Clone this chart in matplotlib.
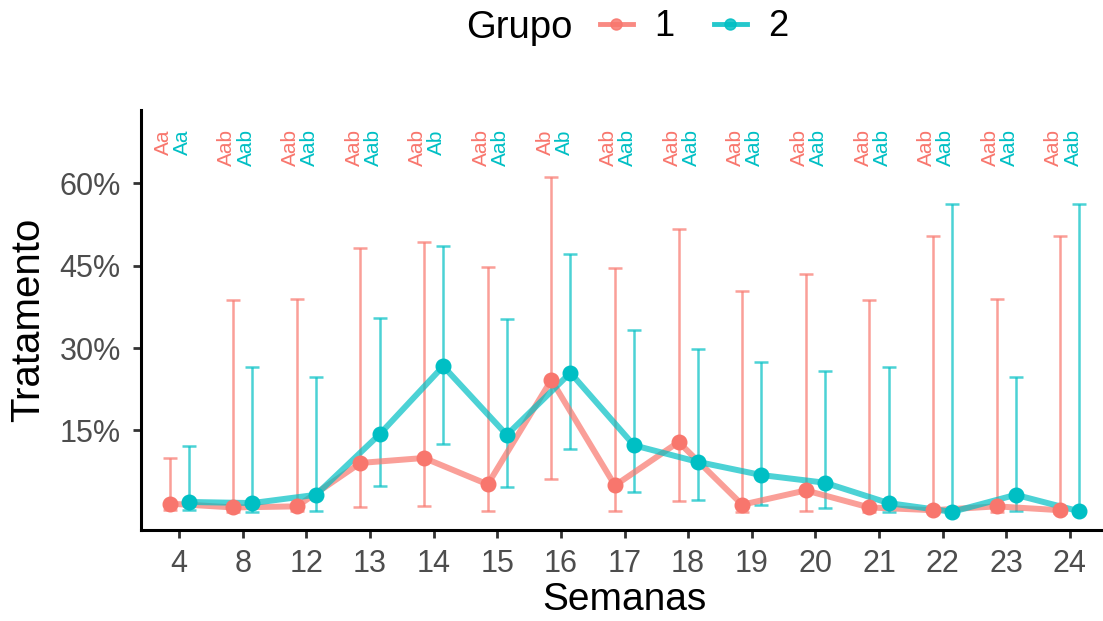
import numpy as np
import matplotlib.pyplot as plt
from matplotlib.lines import Line2D
from matplotlib.ticker import PercentFormatter

plt.rcParams['font.family'] = ['Liberation Sans', 'DejaVu Sans']

# Data (percent)
semanas = ['4', '8', '12', '13', '14', '15', '16', '17', '18', '19', '20', '21', '22', '23', '24']

g1_mean = [1.7, 1.0, 1.2, 9.1, 10.0, 5.2, 24.2, 5.0, 12.9, 1.5, 4.1, 1.0, 0.5, 1.2, 0.5]
g1_low = [0.5, 0.2, 0.3, 1.1, 1.3, 0.4, 6.1, 0.4, 2.1, 0.1, 0.4, 0.1, 0.1, 0.2, 0.0]
g1_high = [10.0, 38.8, 38.9, 48.2, 49.2, 44.7, 61.2, 44.5, 51.7, 40.4, 43.4, 38.8, 50.3, 38.9, 50.3]

g2_mean = [2.0, 1.8, 3.3, 14.3, 26.7, 14.2, 25.5, 12.3, 9.3, 6.9, 5.5, 1.8, 0.2, 3.3, 0.3]
g2_low = [0.5, 0.1, 0.4, 4.9, 12.5, 4.7, 11.7, 3.8, 2.4, 1.4, 0.9, 0.1, 0.0, 0.4, 0.0]
g2_high = [12.1, 26.6, 24.8, 35.4, 48.5, 35.2, 47.1, 33.3, 29.8, 27.4, 25.8, 26.5, 56.2, 24.8, 56.2]

g1_letras = ['Aa', 'Aab', 'Aab', 'Aab', 'Aab', 'Aab', 'Ab', 'Aab', 'Aab', 'Aab', 'Aab', 'Aab', 'Aab', 'Aab', 'Aab']
g2_letras = ['Aa', 'Aab', 'Aab', 'Aab', 'Ab', 'Aab', 'Ab', 'Aab', 'Aab', 'Aab', 'Aab', 'Aab', 'Aab', 'Aab', 'Aab']

red = '#F8766D'
teal = '#00BFC4'

fig = plt.figure(figsize=(11.03, 6.21), dpi=100)
ax = fig.add_axes([141 / 1103, 91 / 621, 967 / 1103, 420 / 621])

x = np.arange(len(semanas))
dodge = 0.15

grupos = [
    (x - dodge, g1_mean, g1_low, g1_high, g1_letras, red),
    (x + dodge, g2_mean, g2_low, g2_high, g2_letras, teal),
]

for xs, mean, low, high, letras, col in grupos:
    mean = np.array(mean)
    err = [mean - np.array(low), np.array(high) - mean]
    ax.errorbar(xs, mean, yerr=err, fmt='none', ecolor=col, alpha=0.7,
                elinewidth=1.8, capsize=5, capthick=1.8, zorder=2)
    ax.plot(xs, mean, color=col, lw=4.3, alpha=0.7, zorder=3, solid_capstyle='round')
    ax.plot(xs, mean, 'o', color=col, ms=10.5, zorder=4)
    for xi, lab in zip(xs, letras):
        ax.text(xi - 0.1, 69.8, lab, rotation=90, rotation_mode='anchor', ha='right', va='center',
                color=col, fontsize=15, zorder=5)

ax.set_xlim(-0.6, len(semanas) - 0.4)
ax.set_ylim(-3.1, 73.3)
ax.set_xticks(x)
ax.set_xticklabels(semanas)
ax.set_yticks([15, 30, 45, 60])
ax.yaxis.set_major_formatter(PercentFormatter(decimals=0))

for s in ['top', 'right']:
    ax.spines[s].set_visible(False)
for s in ['left', 'bottom']:
    ax.spines[s].set_linewidth(2.2)
ax.tick_params(axis='both', length=5.5, width=2, color='#333333', labelsize=22, labelcolor='#4D4D4D')
ax.tick_params(axis='x', pad=8)
ax.tick_params(axis='y', pad=9)

ax.set_xlabel('Semanas', fontsize=28, labelpad=2)
ax.set_ylabel('Tratamento', fontsize=29, labelpad=9)

# legend on top
fig.text(466 / 1103, 1 - 38 / 621, 'Grupo', fontsize=27.5, va='baseline', ha='left')
handles = [Line2D([], [], color=red, lw=3.5, marker='o', ms=8, alpha=0.85),
           Line2D([], [], color=teal, lw=3.5, marker='o', ms=8, alpha=0.85)]
fig.legend(handles, ['1', '2'], ncol=2, loc='center left', bbox_to_anchor=(600 / 1103, 1 - 27 / 621),
           frameon=False, fontsize=26, handlelength=0.9, handletextpad=0.6, columnspacing=1.1,
           borderaxespad=0, borderpad=0)

plt.savefig('out.png', dpi=100)
